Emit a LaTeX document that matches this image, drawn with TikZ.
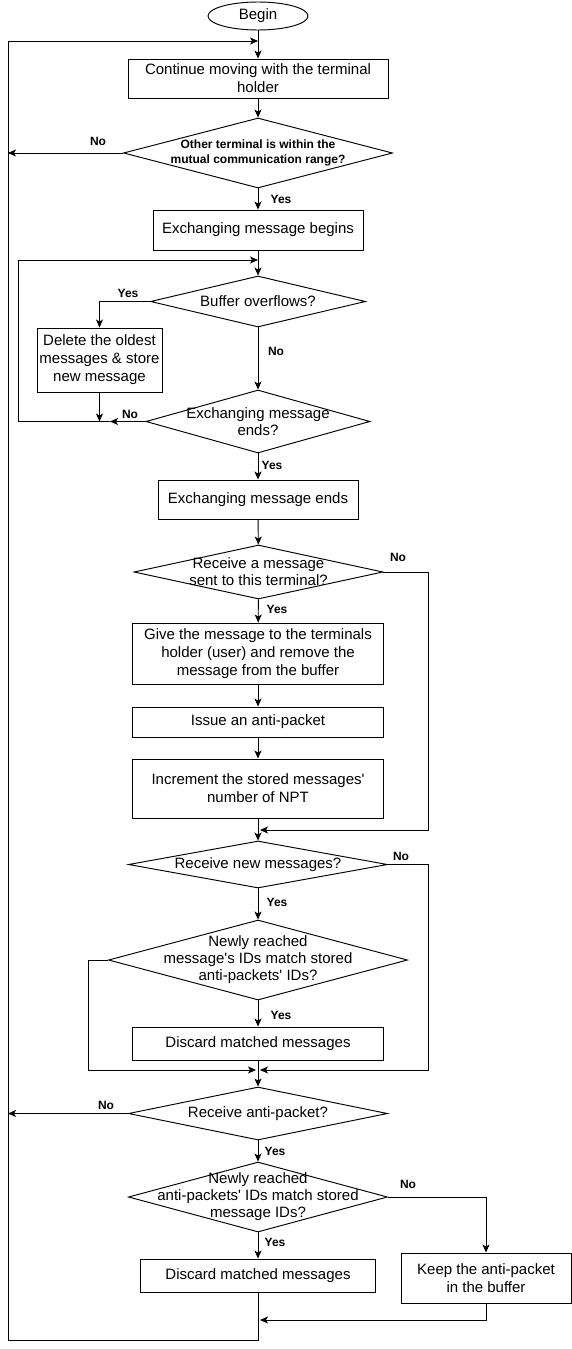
\documentclass[tikz,border=0pt]{standalone}
\usepackage{fontspec}
\setmainfont{Liberation Sans}
\usetikzlibrary{shapes.geometric,arrows.meta}

\tikzset{
  proc/.style={draw, rectangle, inner sep=0pt, align=center, font=\fontsize{15}{18}\selectfont},
  dec/.style={draw, diamond, inner sep=0pt},
  dtext/.style={align=center, inner sep=0pt, font=\fontsize{15}{17}\selectfont},
  lab/.style={inner sep=0pt, font=\bfseries\fontsize{12}{14}\selectfont},
}

\begin{document}
\begin{tikzpicture}[x=1pt, y=-1pt, line width=0.95pt, >={Stealth[length=8pt,width=7pt,inset=2pt]}]
                \useasboundingbox (0,0) rectangle (572,1349);

                % Start and first steps
                \node[draw, ellipse, minimum width=100pt, minimum height=28pt, inner sep=0pt, font=\fontsize{15}{18}\selectfont] (begin) at (258,16) {Begin};
                \coordinate (top) at (258,41);
                \coordinate (lft) at (8,41);
                \node[proc, minimum width=260pt, minimum height=39pt] (move) at (258,78.5) {Continue moving with the terminal\\holder};
                \node[dec, minimum width=269pt, minimum height=70pt, label={[dtext, font=\bfseries\fontsize{12}{15}\selectfont]center:Other terminal is within the\\mutual communication range?}] (range) at (258,153) {};
                \node[proc, minimum width=210pt, minimum height=40pt] (begins) at (258,230) {Exchanging message begins};

                % Exchange loop
                \coordinate (top2) at (258,260);
                \coordinate (lp) at (18,260);
                \node[dec, minimum width=215pt, minimum height=51pt, label={[dtext]center:Buffer overflows?}] (overflow) at (258,301.5) {};
                \node[proc, minimum width=125pt, minimum height=64pt] (delete) at (99.5,360) {Delete the oldest\\messages \& store\\new message};
                \node[dec, minimum width=224pt, minimum height=63pt, label={[dtext]center:Exchanging message\\ends?}] (exend) at (258,421.5) {};
                \coordinate (j3) at (110,421.5);
                \node[proc, minimum width=200pt, minimum height=39pt] (ended) at (258,499.5) {Exchanging message ends};

                % Messages for this terminal
                \node[dec, minimum width=249pt, minimum height=54pt, label={[dtext]center:Receive a message\\sent to this terminal?}] (recv) at (258.5,572) {};
                \node[proc, minimum width=251pt, minimum height=61pt] (give) at (258,653.5) {Give the message to the terminals\\holder (user) and remove the\\message from the buffer};
                \node[proc, minimum width=251pt, minimum height=30pt] (issue) at (258,722) {Issue an anti-packet};
                \node[proc, minimum width=251pt, minimum height=59pt] (incr) at (258,788.5) {Increment the stored messages\textquotesingle\\number of NPT};
                \coordinate (r4) at (428,830);
                \coordinate (j4) at (260,830);

                % New messages
                \node[dec, minimum width=259pt, minimum height=47pt, label={[dtext]center:Receive new messages?}] (newmsg) at (258,864.5) {};
                \node[dec, minimum width=299pt, minimum height=80pt, label={[dtext]center:Newly reached\\message\textquotesingle s IDs match stored\\anti-packets\textquotesingle\ IDs?}] (match) at (258,960) {};
                \node[proc, minimum width=251pt, minimum height=33pt] (discard) at (258,1043.5) {Discard matched messages};
                \coordinate (r5) at (428,1070);
                \coordinate (j5) at (260,1070);
                \coordinate (l6) at (88,1070);
                \coordinate (j6) at (256,1070);

                % Anti-packets
                \node[dec, minimum width=259pt, minimum height=53pt, label={[dtext]center:Receive anti-packet?}] (anti) at (258,1113.5) {};
                \node[dec, minimum width=259pt, minimum height=70pt, label={[dtext]center:Newly reached\\anti-packets\textquotesingle\ IDs match stored\\message IDs?}] (amatch) at (258,1197) {};
                \node[proc, minimum width=235pt, minimum height=33pt] (drop) at (258,1275.5) {Discard matched messages};
                \node[proc, minimum width=170pt, minimum height=50pt] (keep) at (486,1278) {Keep the anti-packet\\in the buffer};
                \coordinate (j10) at (260,1320);
                \coordinate (bot) at (258,1340);

                % Connectors
                \draw[->] (begin) -- (move);
                \draw[->] (move) -- (range);
                \draw[->] (range.west) -- (range.west -| lft);
                \draw[->] (range) -- (begins);
                \draw[->] (begins) -- (overflow);
                \draw[->] (overflow.west) -| (delete.north);
                \draw[->] (delete.south) -- (delete.south |- exend.west);
                \draw[->] (overflow) -- (exend);
                \draw[->] (exend.west) -- (j3);
                \draw[->] (j3) -| (lp) -- (top2);
                \draw[->] (exend) -- (ended);
                \draw[->] (ended) -- (recv);
                \draw[->] (recv) -- (give);
                \draw[->] (give) -- (issue);
                \draw[->] (issue) -- (incr);
                \draw[->] (recv.east) -| (r4) -- (j4);
                \draw[->] (incr) -- (newmsg);
                \draw[->] (newmsg) -- (match);
                \draw[->] (newmsg.east) -| (r5) -- (j5);
                \draw[->] (match) -- (discard);
                \draw[->] (match.west) -| (l6) -- (j6);
                \draw[->] (discard) -- (anti);
                \draw[->] (anti.west) -- (anti.west -| lft);
                \draw[->] (anti) -- (amatch);
                \draw[->] (amatch) -- (drop);
                \draw[->] (amatch.east) -| (keep.north);
                \draw[->] (keep.south) |- (j10);
                \draw[->] (drop.south) -- (bot) -| (lft) -- (top);

                % Yes / No labels
                \node[lab] (no1) at (98,141) {No};
                \node[lab] (yes1) at (281,199) {Yes};
                \node[lab] (yes2) at (128,293) {Yes};
                \node[lab] (no2) at (276,351) {No};
                \node[lab] (no3) at (130,414) {No};
                \node[lab] (yes3) at (272,465) {Yes};
                \node[lab] (no4) at (398,557) {No};
                \node[lab] (yes4) at (277,609) {Yes};
                \node[lab] (no5) at (401,856) {No};
                \node[lab] (yes5) at (277,902) {Yes};
                \node[lab] (yes6) at (281,1015) {Yes};
                \node[lab] (no7) at (106,1105) {No};
                \node[lab] (yes7) at (275,1151) {Yes};
                \node[lab] (no8) at (408,1184) {No};
                \node[lab] (yes8) at (275,1242) {Yes};
            \end{tikzpicture}
\end{document}
